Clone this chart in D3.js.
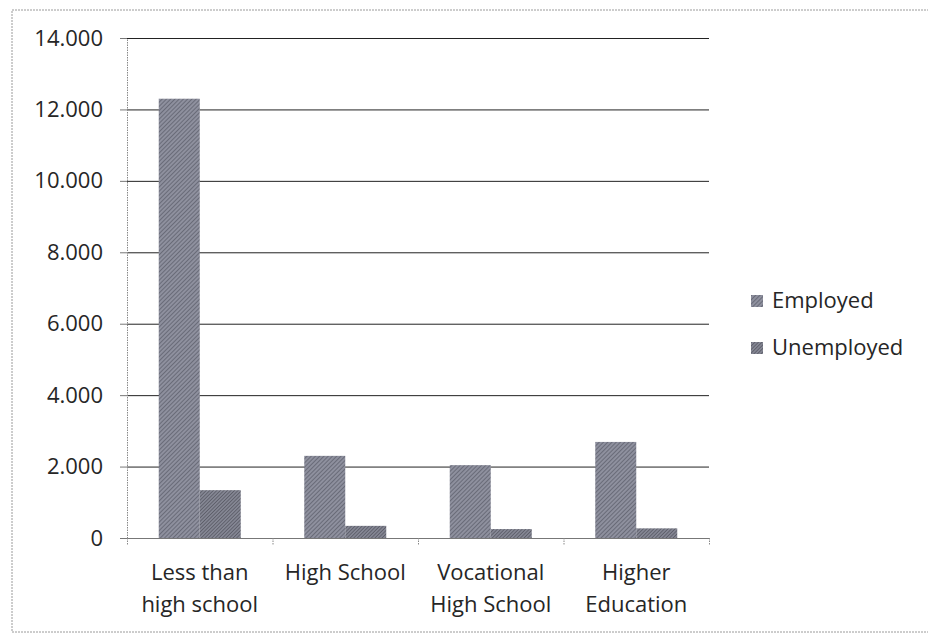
<!DOCTYPE html>
<html>
<head>
<meta charset="utf-8">
<script src="https://cdn.jsdelivr.net/npm/d3@7"></script>
<style>
  body { margin: 0; background: #fff; }
  svg { display: block; font-family: "Open Sans", sans-serif; }
</style>
</head>
<body>
<div class="container"></div>
<script>
var W = 928, H = 634;

// data
var categories = ["Less than high school", "High School", "Vocational High School", "Higher Education"];
var categoryLines = [["Less than", "high school"], ["High School"], ["Vocational", "High School"], ["Higher", "Education"]];
var series = ["Employed", "Unemployed"];
var employed = [12300, 2300, 2040, 2690];
var unemployed = [1340, 340, 250, 270];
var yTicks = [0, 2000, 4000, 6000, 8000, 10000, 12000, 14000];

var PLOT = {left: 127, right: 709, top: 38, bottom: 538};
var TEXT = "#262626";

var locale = d3.formatLocale({decimal: ",", thousands: ".", grouping: [3], currency: ["", ""]});
var fmt = locale.format(",");

var svg = d3.select(".container").append("svg")
  .attr("width", W).attr("height", H);

// hatch patterns
var defs = svg.append("defs");
var addPattern = function(id, bg, stroke, gap){
  var p = defs.append("pattern")
    .attr("id", id)
    .attr("patternUnits", "userSpaceOnUse")
    .attr("width", gap).attr("height", gap)
    .attr("patternTransform", "rotate(45)");
  p.append("rect").attr("width", gap).attr("height", gap).attr("fill", bg);
  p.append("line")
    .attr("x1", 0).attr("y1", 0).attr("x2", 0).attr("y2", gap)
    .attr("stroke", stroke).attr("stroke-width", 1.2);
};
addPattern("hatchEmp", "#8e909e", "#50525e", 3);
addPattern("hatchUnemp", "#848693", "#4c4d57", 2.5);
var fills = {"Employed": "url(#hatchEmp)", "Unemployed": "url(#hatchUnemp)"};

// outer frame
svg.append("rect")
  .attr("x", 12).attr("y", 10)
  .attr("width", W + 10).attr("height", 622)
  .attr("fill", "none")
  .attr("stroke", "#9a9a9a")
  .attr("stroke-dasharray", "2,1");

var x = d3.scaleBand()
  .domain(categories)
  .range([PLOT.left, PLOT.right])
  .paddingInner(0).paddingOuter(0);

var groupW = 82;
var x1 = d3.scaleBand()
  .domain(series)
  .range([0, groupW]);

var y = d3.scaleLinear()
  .domain([0, 14000])
  .range([PLOT.bottom, PLOT.top]);

// gridlines
svg.append("g").selectAll("line")
  .data(yTicks.filter(function(d){ return d > 0; }))
  .enter().append("line")
  .attr("x1", PLOT.left).attr("x2", PLOT.right)
  .attr("y1", function(d){ return y(d) + 0.5; })
  .attr("y2", function(d){ return y(d) + 0.5; })
  .attr("stroke", "#222")
  .attr("stroke-width", 1);

// y axis
var yAxis = svg.append("g")
  .attr("transform", "translate(" + PLOT.left + ",0)")
  .call(d3.axisLeft(y).tickValues(yTicks).tickFormat(fmt).tickSize(7).tickSizeOuter(0).tickPadding(17));
yAxis.select(".domain").attr("stroke", "#888").attr("stroke-dasharray", "1.5,1");
yAxis.selectAll(".tick line").attr("stroke", "#777");
yAxis.selectAll("text")
  .attr("font-size", 22)
  .attr("fill", TEXT)
  .attr("font-family", "'Open Sans', sans-serif");

// x axis baseline and ticks at category boundaries
var bounds = categories.map(function(c){ return x(c); }).concat([PLOT.right]);
svg.append("line")
  .attr("x1", PLOT.left).attr("x2", PLOT.right)
  .attr("y1", PLOT.bottom + 0.5).attr("y2", PLOT.bottom + 0.5)
  .attr("stroke", "#777");
svg.append("g").selectAll("line")
  .data(bounds)
  .enter().append("line")
  .attr("x1", function(d){ return d + 0.5; })
  .attr("x2", function(d){ return d + 0.5; })
  .attr("y1", PLOT.bottom).attr("y2", PLOT.bottom + 7)
  .attr("stroke", "#888")
  .attr("stroke-dasharray", "1.5,1");

// bars
var rows = categories.map(function(c, i){
  return {cat: c, values: [
    {key: "Employed", value: employed[i]},
    {key: "Unemployed", value: unemployed[i]}
  ]};
});

var groups = svg.append("g").selectAll("g")
  .data(rows)
  .enter().append("g")
  .attr("transform", function(d){
    return "translate(" + (x(d.cat) + (x.bandwidth() - groupW) / 2) + ",0)";
  });

groups.selectAll("rect")
  .data(function(d){ return d.values; })
  .enter().append("rect")
  .attr("x", function(d){ return x1(d.key); })
  .attr("width", x1.bandwidth())
  .attr("y", function(d){ return y(d.value); })
  .attr("height", function(d){ return y(0) - y(d.value); })
  .attr("fill", function(d){ return fills[d.key]; });

// category labels
var labels = svg.append("g").selectAll("text")
  .data(categories)
  .enter().append("text")
  .attr("x", function(d){ return x(d) + x.bandwidth() / 2; })
  .attr("y", 580)
  .attr("text-anchor", "middle")
  .attr("font-size", 22)
  .attr("fill", TEXT);
labels.each(function(d, i){
  var t = d3.select(this);
  categoryLines[i].forEach(function(line, j){
    t.append("tspan")
      .attr("x", x(d) + x.bandwidth() / 2)
      .attr("dy", j === 0 ? 0 : 32)
      .text(line);
  });
});

// legend
var legend = svg.append("g").selectAll("g")
  .data(series)
  .enter().append("g")
  .attr("transform", function(d, i){ return "translate(751," + (295 + i * 47) + ")"; });
legend.append("rect")
  .attr("width", 12).attr("height", 12)
  .attr("fill", function(d){ return fills[d]; });
legend.append("text")
  .attr("x", 21).attr("y", 13)
  .attr("font-size", 22)
  .attr("fill", TEXT)
  .text(function(d){ return d; });
</script>
</body>
</html>
